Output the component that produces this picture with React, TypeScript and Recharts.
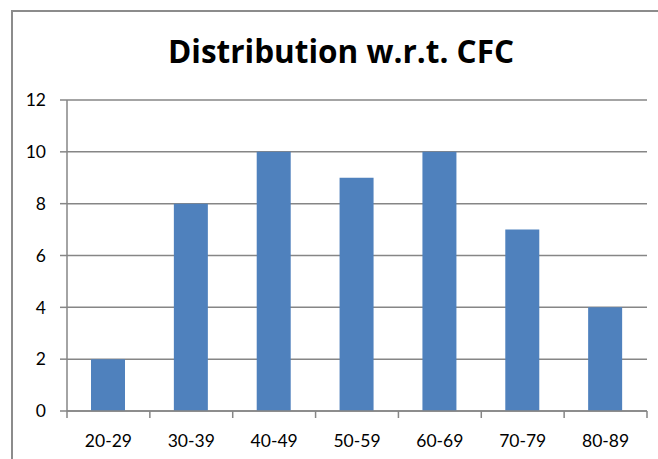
import React from 'react';
import { BarChart, Bar, XAxis, YAxis, CartesianGrid } from 'recharts';

// Age bands and how many fall into each
const ageBands = ['20-29', '30-39', '40-49', '50-59', '60-69', '70-79', '80-89'];
const counts = [2, 8, 10, 9, 10, 7, 4];
const yTicks = [0, 2, 4, 6, 8, 10, 12];

const chartData = ageBands.map((band, i) => ({ band, count: counts[i] }));

const FONT = 'Lato, "Open Sans", sans-serif';
const TITLE_FONT = '"Open Sans", Lato, sans-serif';
const LINE = '#868686';
const BAR = '#4F81BD';

// X tick: label at the band centre, tick marks on the band edges (Excel style)
function BandTick(props: any) {
	const { x, y, payload, index } = props;
	const half = payload && payload.offset ? payload.offset : 41.4;
	const last = index === ageBands.length - 1;
	return (
		<g>
			<line x1={x - half} x2={x - half} y1={y} y2={y + 7} stroke={LINE} strokeWidth={1.5} />
			{last && (
				<line x1={x + half} x2={x + half} y1={y} y2={y + 7} stroke={LINE} strokeWidth={1.5} />
			)}
			<text
				x={x}
				y={y + 29}
				textAnchor="middle"
				dominantBaseline="central"
				fontFamily={FONT}
				fontSize={17.5}
				fill="#000"
			>
				{payload.value}
			</text>
		</g>
	);
}

export default function App() {
	return (
		<div
			style={{
				position: 'absolute',
				left: 0,
				top: 0,
				width: 658,
				height: 459,
				overflow: 'hidden',
				background: '#fff',
			}}
		>
			{/* chart frame, runs off the right and bottom */}
			<div
				style={{
					position: 'absolute',
					left: 11,
					top: 10,
					width: 700,
					height: 520,
					border: '2px solid #8c8c8c',
				}}
			/>
			<div
				style={{
					position: 'absolute',
					left: 12,
					width: 658,
					top: 31,
					textAlign: 'center',
					fontFamily: TITLE_FONT,
					fontWeight: 700,
					fontSize: 31.5,
					color: '#000',
					lineHeight: '40px',
				}}
			>
				Distribution w.r.t. CFC
			</div>
			<div style={{ position: 'absolute', left: 0, top: 0 }}>
				<BarChart
					width={658}
					height={459}
					data={chartData}
					margin={{ top: 100, right: 11, left: 12, bottom: 18 }}
				>
					<CartesianGrid vertical={false} stroke={LINE} strokeWidth={1.5} />
					<XAxis
						dataKey="band"
						height={30}
						axisLine={{ stroke: LINE, strokeWidth: 1.5 }}
						tickLine={false}
						tickSize={0}
						tickMargin={0}
						interval={0}
						tick={<BandTick />}
					/>
					<YAxis
						width={55}
						domain={[0, 12]}
						ticks={yTicks}
						interval={0}
						axisLine={{ stroke: LINE, strokeWidth: 1.5 }}
						tickLine={{ stroke: LINE, strokeWidth: 1.5 }}
						tickSize={7}
						tickMargin={14}
						tick={{ fontFamily: FONT, fontSize: 17.5, fill: '#000' }}
					/>
					<Bar dataKey="count" fill={BAR} barSize={34} isAnimationActive={false} />
				</BarChart>
			</div>
		</div>
	);
}
